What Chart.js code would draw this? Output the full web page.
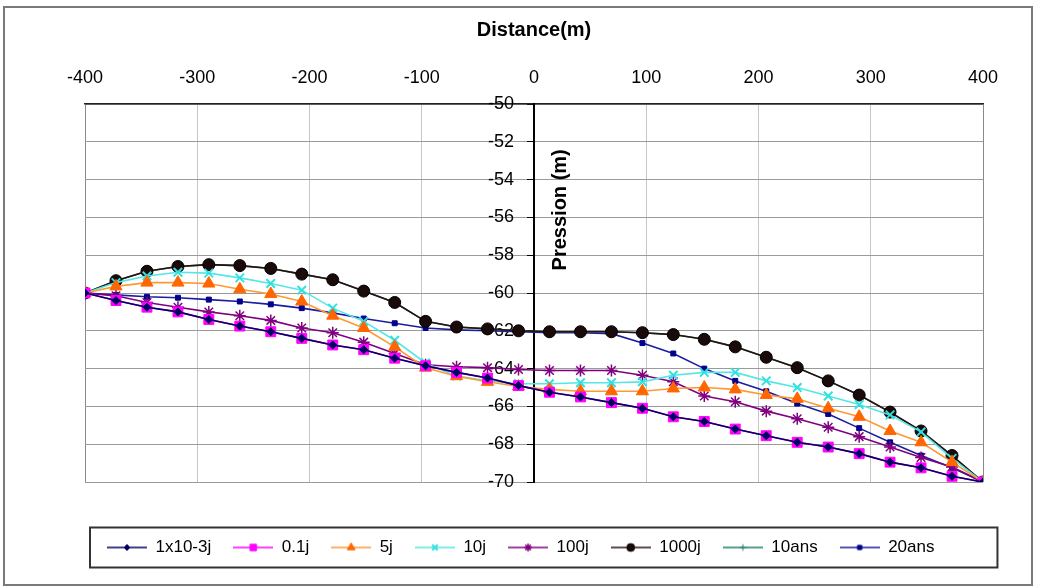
<!DOCTYPE html>
<html><head><meta charset="utf-8">
<script src="https://cdn.jsdelivr.net/npm/chart.js@4.4.1/dist/chart.umd.min.js"></script>
<style>html,body{margin:0;padding:0;background:#fff;}canvas{display:block;}</style>
</head><body>
<canvas id="c" width="1039" height="588"></canvas>
<script>
// ---- data ----
const distances = [-400, -372.4, -344.8, -317.2, -289.7, -262.1, -234.5, -206.9, -179.3, -151.7,
  -124.1, -96.6, -69.0, -41.4, -13.8, 13.8, 41.4, 69.0, 96.6, 124.1,
  151.7, 179.3, 206.9, 234.5, 262.1, 289.7, 317.2, 344.8, 372.4, 400];
const xTicks = [-400, -300, -200, -100, 0, 100, 200, 300, 400];
const yTicks = [-50, -52, -54, -56, -58, -60, -62, -64, -66, -68, -70];
const seriesNames = ['1x10-3j', '0.1j', '5j', '10j', '100j', '1000j', '10ans', '20ans'];

const p_1e3j = [-60.0, -60.4, -60.75, -61.0, -61.4, -61.75, -62.05, -62.4, -62.75, -63.0,
  -63.45, -63.85, -64.2, -64.5, -64.9, -65.25, -65.5, -65.8, -66.1, -66.55,
  -66.8, -67.2, -67.55, -67.9, -68.15, -68.5, -68.95, -69.25, -69.7, -70.0];
const p_01j = [-60.0, -60.4, -60.75, -61.0, -61.4, -61.75, -62.05, -62.4, -62.75, -63.0,
  -63.45, -63.85, -64.2, -64.5, -64.9, -65.25, -65.5, -65.8, -66.1, -66.55,
  -66.8, -67.2, -67.55, -67.9, -68.15, -68.5, -68.95, -69.25, -69.7, -70.0];
const p_5j = [-60.0, -59.65, -59.45, -59.45, -59.5, -59.8, -60.05, -60.45, -61.2, -61.85,
  -62.85, -63.95, -64.4, -64.7, -64.95, -65.1, -65.2, -65.2, -65.2, -65.05,
  -65.0, -65.1, -65.4, -65.6, -66.1, -66.55, -67.3, -67.9, -68.95, -70.0];
const p_10j = [-60.0, -59.45, -59.1, -58.9, -58.95, -59.2, -59.5, -59.85, -60.8, -61.5,
  -62.5, -63.7, -64.4, -64.65, -64.8, -64.8, -64.75, -64.75, -64.7, -64.35,
  -64.2, -64.2, -64.65, -65.0, -65.45, -65.9, -66.45, -67.35, -68.75, -70.0];
const p_100j = [-60.0, -60.15, -60.5, -60.75, -61.0, -61.2, -61.45, -61.85, -62.1, -62.6,
  -63.2, -63.8, -63.9, -63.95, -64.05, -64.1, -64.1, -64.1, -64.35, -64.7,
  -65.45, -65.75, -66.25, -66.65, -67.1, -67.6, -68.15, -68.7, -69.2, -70.0];
const p_1000j = [-60.0, -59.35, -58.85, -58.6, -58.5, -58.55, -58.7, -59.0, -59.3, -59.9,
  -60.5, -61.5, -61.8, -61.9, -62.0, -62.05, -62.05, -62.05, -62.1, -62.2,
  -62.45, -62.85, -63.4, -63.95, -64.65, -65.4, -66.3, -67.3, -68.6, -70.0];
const p_10ans = [-60.0, -59.35, -58.85, -58.6, -58.5, -58.55, -58.7, -59.0, -59.3, -59.9,
  -60.5, -61.5, -61.8, -61.9, -62.0, -62.05, -62.05, -62.05, -62.1, -62.2,
  -62.45, -62.85, -63.4, -63.95, -64.65, -65.4, -66.3, -67.3, -68.6, -70.0];
const p_20ans = [-60.0, -60.1, -60.2, -60.25, -60.35, -60.45, -60.6, -60.8, -61.05, -61.35,
  -61.6, -61.85, -61.95, -62.0, -62.05, -62.1, -62.1, -62.15, -62.65, -63.2,
  -64.0, -64.65, -65.2, -65.85, -66.4, -67.15, -67.9, -68.6, -69.25, -70.0];

const FONT = "'Liberation Sans', Arial, sans-serif";

const styles = [
  {line: '#000060', pt: 'rectRot', r: 4, fill: '#000060', border: '#000060', bw: 1},
  {line: '#ff00ff', pt: 'rect', r: 7, fill: '#ff00ff', border: '#ff00ff', bw: 1},
  {line: '#ff9933', pt: 'triangle', r: 7, fill: '#ff6600', border: '#ff6600', bw: 1},
  {line: '#55e6e6', pt: 'crossRot', r: 6, fill: '#33e0e0', border: '#33e0e0', bw: 2},
  {line: '#800080', pt: 'star', r: 6, fill: '#800080', border: '#800080', bw: 1.5},
  {line: '#2a1010', pt: 'circle', r: 6, fill: '#1a0a0a', border: '#000000', bw: 1},
  {line: '#1f7f6a', pt: 'cross', r: 5, fill: '#1f7f6a', border: '#1f7f6a', bw: 1},
  {line: '#1c1ca0', pt: 'rect', r: 3.5, fill: '#00008b', border: '#00008b', bw: 1}
];
const seriesValues = [p_1e3j, p_01j, p_5j, p_10j, p_100j, p_1000j, p_10ans, p_20ans];

function makeIcon(st) {
  const cv = document.createElement('canvas');
  cv.width = 40; cv.height = 14;
  const c = cv.getContext('2d');
  c.strokeStyle = st.line; c.lineWidth = 1.5;
  c.beginPath(); c.moveTo(0, 7); c.lineTo(40, 7); c.stroke();
  c.fillStyle = st.fill; c.strokeStyle = st.border; c.lineWidth = st.bw;
  if (Chart.helpers && Chart.helpers.drawPoint) {
    Chart.helpers.drawPoint(c, {pointStyle: st.pt, radius: Math.max(3, st.r * 0.65), borderWidth: st.bw, rotation: 0}, 20, 7);
  }
  return cv;
}

const datasets = seriesNames.map((name, i) => {
  const st = styles[i];
  return {
    label: name,
    data: distances.map((d, k) => ({x: d, y: seriesValues[i][k]})),
    borderColor: st.line,
    borderWidth: 1.6,
    backgroundColor: st.fill,
    pointStyle: st.pt,
    pointRadius: st.r,
    pointBackgroundColor: st.fill,
    pointBorderColor: st.border,
    pointBorderWidth: st.bw,
    tension: 0,
    fill: false
  };
});

const framePlugin = {
  id: 'frame',
  beforeDraw(chart) {
    const c = chart.ctx;
    c.save();
    c.fillStyle = '#fff'; c.fillRect(0, 0, chart.width, chart.height);
    c.strokeStyle = '#7a7a7a'; c.lineWidth = 2;
    c.strokeRect(4, 7, 1028, 578);
    c.restore();
  },
  afterDraw(chart) {
    const c = chart.ctx;
    const hb = chart.legend.legendHitBoxes;
    if (hb && hb.length) {
      const l = Math.min(...hb.map(h => h.left)) - 17;
      const r = Math.max(...hb.map(h => h.left + h.width)) + 63;
      const cy = hb[0].top + hb[0].height / 2;
      c.save();
      c.strokeStyle = '#333'; c.lineWidth = 2;
      c.strokeRect(l, cy - 20, r - l, 40);
      c.restore();
    }
    const xs = chart.scales.x, ys = chart.scales.y;
    c.save();
    c.translate(xs.getPixelForValue(0) + 26, ys.getPixelForValue(-55.6));
    c.rotate(-Math.PI / 2);
    c.font = "bold 20px " + FONT;
    c.fillStyle = '#000'; c.textAlign = 'center'; c.textBaseline = 'middle';
    c.fillText('Pression (m)', 0, 0);
    c.restore();
  }
};

new Chart(document.getElementById('c'), {
  type: 'line',
  data: {datasets},
  plugins: [framePlugin],
  options: {
    responsive: false, animation: false, devicePixelRatio: 1,
    layout: {padding: {left: 85, right: 56, top: 8, bottom: 22}},
    scales: {
      x: {
        type: 'linear', position: 'top', min: -400, max: 400,
        afterBuildTicks: s => { s.ticks = xTicks.map(v => ({value: v})); },
        afterFit: s => { s.height = 96; s.paddingLeft = 0; s.paddingRight = 0; },
        ticks: {font: {family: FONT, size: 18}, color: '#000', padding: 15, maxRotation: 0, autoSkip: false},
        grid: {drawTicks: false, lineWidth: 1,
          color: ctx => (ctx.tick && Math.abs(ctx.tick.value) === 400) ? '#8a8a8a' : '#c6c6c6'},
        border: {display: true, color: '#222', width: 1.5},
        title: {display: true, text: 'Distance(m)', color: '#000',
          font: {family: FONT, size: 20, weight: 'bold'}, padding: {top: 10, bottom: 0}}
      },
      y: {
        type: 'linear', position: {x: 0}, min: -70, max: -50,
        afterBuildTicks: s => { s.ticks = yTicks.map(v => ({value: v})); },
        afterFit: s => { s.paddingTop = 0; s.paddingBottom = 0; },
        ticks: {font: {family: FONT, size: 18}, color: '#000', padding: 4,
          callback: v => v + '    '},
        grid: {color: '#9a9a9a', tickColor: '#000', tickLength: 6, lineWidth: 1},
        border: {color: '#000', width: 2}
      }
    },
    plugins: {
      tooltip: {enabled: false},
      legend: {
        position: 'bottom', align: 'start',
        title: {display: true, text: ' ', font: {size: 10}, padding: {top: 23, bottom: 0}},
        labels: {
          usePointStyle: true, pointStyleWidth: 40, padding: 22, color: '#000',
          font: {family: FONT, size: 17},
          generateLabels: chart => chart.data.datasets.map((ds, i) => ({
            text: ds.label, pointStyle: makeIcon(styles[i]),
            fillStyle: 'rgba(0,0,0,0)', strokeStyle: 'rgba(0,0,0,0)', lineWidth: 0,
            hidden: false, datasetIndex: i, fontColor: '#000'
          }))
        }
      }
    }
  }
});
</script>
</body></html>
